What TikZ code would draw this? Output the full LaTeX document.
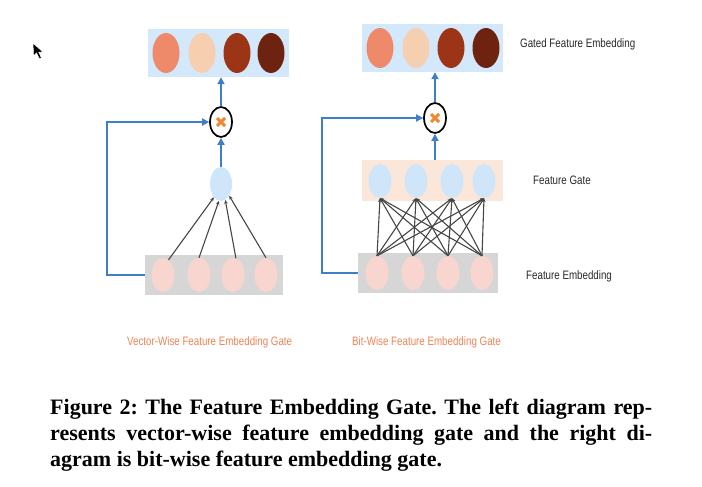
\documentclass[tikz,border=0pt]{standalone}
\usepackage{fontspec}
\setmainfont{Liberation Serif}
\newfontfamily\narrowsans[FakeStretch=0.8]{Liberation Sans}
\usetikzlibrary{shapes.geometric,arrows.meta}
\definecolor{topbox}{RGB}{212,232,251}
\definecolor{cA}{RGB}{238,138,106}
\definecolor{cB}{RGB}{245,207,175}
\definecolor{cC}{RGB}{156,52,22}
\definecolor{cD}{RGB}{109,35,16}
\definecolor{gatebox}{RGB}{251,231,217}
\definecolor{blueball}{RGB}{207,229,250}
\definecolor{graybox}{RGB}{214,214,214}
\definecolor{pinkball}{RGB}{248,214,207}
\definecolor{bluelink}{RGB}{63,127,201}
\definecolor{xorange}{RGB}{240,136,46}
\definecolor{labelorange}{RGB}{240,132,84}
\definecolor{labeldark}{RGB}{40,40,40}
\definecolor{graylink}{RGB}{70,70,70}
\tikzset{
  panel/.style={rectangle, draw=none, inner sep=0pt},
  bigball/.style={ellipse, draw=none, inner sep=0pt, minimum width=27pt, minimum height=40pt},
  smallball/.style={ellipse, draw=none, inner sep=0pt, minimum width=23pt, minimum height=34pt},
  mult/.style={ellipse, draw=black, line width=1.7pt, fill=white, inner sep=0pt, minimum width=22pt, minimum height=30pt},
  xmark/.style={xorange, line width=3pt},
  bluearrow/.style={bluelink, line width=2.4pt, -{Triangle[length=7pt,width=7pt]}},
  grayarrow/.style={graylink, line width=1.1pt, -{Stealth[length=4pt,width=3.5pt]}},
  sidelabel/.style={anchor=west, inner sep=0pt, text=labeldark, font=\narrowsans\fontsize{12.2}{14}\selectfont},
  botlabel/.style={anchor=west, inner sep=0pt, text=labelorange, font=\narrowsans\fontsize{12.2}{14}\selectfont},
  captionline/.style={anchor=base west, inner sep=0pt, font=\bfseries\fontsize{22}{26}\selectfont\frenchspacing}
}
\begin{document}
\begin{tikzpicture}[x=1pt,y=-1pt]
\useasboundingbox (0,0) rectangle (702,487);
% cursor
\fill[black, draw=white, line width=0.6pt] (33,43) -- (33.5,56) -- (36.5,53) -- (39.5,59) -- (41.5,58) -- (38.8,52.2) -- (43,52) -- cycle;

% ---------------- Left diagram ----------------
\node[panel, fill=topbox, minimum width=141pt, minimum height=48pt] (ltop) at (218.5,53) {};
\node[bigball, fill=cA] (lt1) at (166,53) {};
\node[bigball, fill=cB] (lt2) at (202,53) {};
\node[bigball, fill=cC] (lt3) at (237,53) {};
\node[bigball, fill=cD] (lt4) at (271,53) {};
\node[mult] (lx) at (221,122) {};
\draw[xmark] (lx.center) ++(-4,-4) -- ++(8,8);
\draw[xmark] (lx.center) ++(-4,4) -- ++(8,-8);
\node[smallball, fill=blueball, minimum width=22pt] (lblue) at (221,184) {};
\node[panel, fill=graybox, minimum width=138pt, minimum height=40pt] (lbot) at (214,275) {};
\node[smallball, fill=pinkball] (lb1) at (163,275) {};
\node[smallball, fill=pinkball] (lb2) at (199,275) {};
\node[smallball, fill=pinkball] (lb3) at (233,275) {};
\node[smallball, fill=pinkball] (lb4) at (266,275) {};
\draw[bluearrow] (lx.north) -- (lx.north |- ltop.south);
\draw[bluearrow] (lblue.north) -- (lx.south);
\draw[bluearrow] (lbot.west) -- ++(-38,0) |- (lx.west);
\draw[grayarrow] (lb1.70) -- (lblue.-118);
\draw[grayarrow] (lb2.north) -- (lblue.-97);
\draw[grayarrow] (lb3.80) -- (lblue.-75);
\draw[grayarrow] (lb4.north) -- (lblue.-55);

% ---------------- Right diagram ----------------
\node[panel, fill=topbox, minimum width=141pt, minimum height=48pt] (rtop) at (432.5,48) {};
\node[bigball, fill=cA] (rt1) at (380,48) {};
\node[bigball, fill=cB] (rt2) at (416,48) {};
\node[bigball, fill=cC] (rt3) at (451,48) {};
\node[bigball, fill=cD] (rt4) at (486,48) {};
\node[mult] (rx) at (435,118) {};
\draw[xmark] (rx.center) ++(-4,-4) -- ++(8,8);
\draw[xmark] (rx.center) ++(-4,4) -- ++(8,-8);
\node[panel, fill=gatebox, minimum width=141pt, minimum height=41pt] (rgate) at (432.5,180.5) {};
\node[smallball, fill=blueball] (rg1) at (380,181) {};
\node[smallball, fill=blueball] (rg2) at (416,181) {};
\node[smallball, fill=blueball] (rg3) at (452,181) {};
\node[smallball, fill=blueball] (rg4) at (484,181) {};
\node[panel, fill=graybox, minimum width=140pt, minimum height=40pt] (rbot) at (428,273) {};
\node[smallball, fill=pinkball] (rb1) at (377,273) {};
\node[smallball, fill=pinkball] (rb2) at (413,273) {};
\node[smallball, fill=pinkball] (rb3) at (448,273) {};
\node[smallball, fill=pinkball] (rb4) at (482,273) {};
\draw[bluearrow] (rx.north) -- (rx.north |- rtop.south);
\draw[bluearrow] (rgate.north -| rx) -- (rx.south);
\draw[bluearrow] (rbot.west) -- ++(-36,0) |- (rx.west);
\foreach \i in {1,2,3,4}{
  \foreach \j in {1,2,3,4}{
    \draw[grayarrow] (rb\i.north) -- (rg\j.south);
  }
}

% ---------------- Labels ----------------
\node[sidelabel] (l1) at (520,44) {Gated Feature Embedding};
\node[sidelabel] (l2) at (533,180) {Feature Gate};
\node[sidelabel] (l3) at (526,276) {Feature Embedding};
\node[botlabel] (l4) at (127,342) {Vector-Wise Feature Embedding Gate};
\node[botlabel] (l5) at (352,342) {Bit-Wise Feature Embedding Gate};

% ---------------- Caption ----------------
\node[captionline] (c1) at (50,414) {\makebox[602pt][s]{Figure 2: The Feature Embedding Gate. The left diagram rep-}};
\node[captionline] (c2) at (50,440) {\makebox[602pt][s]{resents vector-wise feature embedding gate and the right di-}};
\node[captionline] (c3) at (50,466) {agram is bit-wise feature embedding gate.};
\end{tikzpicture}
\end{document}
